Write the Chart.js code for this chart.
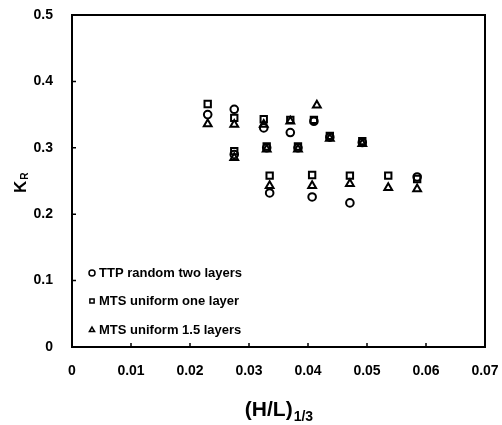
<!DOCTYPE html>
<html><head><meta charset="utf-8">
<script src="https://cdn.jsdelivr.net/npm/chart.js@4.4.1/dist/chart.umd.min.js"></script>
<style>html,body{margin:0;padding:0;background:#fff}#wrap{width:502px;height:425px}</style>
</head><body><div id="wrap"><canvas id="c" width="502" height="425"></canvas></div>
<script>
// ---- data ----
const seriesNames = ['TTP random two layers', 'MTS uniform one layer', 'MTS uniform 1.5 layers'];

const ttpX = [0.0230, 0.0275, 0.0275, 0.0325, 0.0330, 0.0335, 0.0370, 0.0383, 0.0407, 0.0410, 0.0437, 0.0471, 0.0492, 0.0585];
const ttpY = [0.350, 0.358, 0.290, 0.330, 0.300, 0.232, 0.323, 0.300, 0.226, 0.340, 0.316, 0.217, 0.308, 0.256];

const oneX = [0.0230, 0.0275, 0.0275, 0.0325, 0.0330, 0.0335, 0.0370, 0.0383, 0.0407, 0.0410, 0.0437, 0.0471, 0.0492, 0.0536, 0.0585];
const oneY = [0.366, 0.345, 0.295, 0.343, 0.302, 0.258, 0.342, 0.302, 0.259, 0.342, 0.318, 0.258, 0.310, 0.258, 0.253];

const halfX = [0.0230, 0.0275, 0.0275, 0.0325, 0.0330, 0.0335, 0.0370, 0.0383, 0.0407, 0.0415, 0.0437, 0.0471, 0.0492, 0.0536, 0.0585];
const halfY = [0.336, 0.335, 0.285, 0.335, 0.298, 0.243, 0.340, 0.298, 0.243, 0.364, 0.314, 0.246, 0.306, 0.240, 0.238];

const xTickLabels = ['0', '0.01', '0.02', '0.03', '0.04', '0.05', '0.06', '0.07'];
const yTickLabels = ['0', '0.1', '0.2', '0.3', '0.4', '0.5'];
const xTitleMain = '(H/L)', xTitleSub = '1/3';
const yTitleMain = 'K', yTitleSub = 'R';

const pts = (xs, ys) => xs.map((x, i) => ({x: x, y: ys[i]}));
const pointStyles = ['circle', 'rect', 'triangle'];
const FONT = '"Liberation Sans", Arial, sans-serif';

const datasets = [
  {label: seriesNames[0], data: pts(ttpX, ttpY), pointStyle: 'circle', pointRadius: 3.8},
  {label: seriesNames[1], data: pts(oneX, oneY), pointStyle: 'rect', pointRadius: 4.5},
  {label: seriesNames[2], data: pts(halfX, halfY), pointStyle: 'triangle', pointRadius: 4.5}
].map(d => Object.assign(d, {borderColor: '#000', backgroundColor: 'rgba(0,0,0,0)', pointBorderWidth: 2, showLine: false}));

const decor = {
  id: 'decor',
  afterDraw(chart) {
    const ctx = chart.ctx, a = chart.chartArea, xs = chart.scales.x, ys = chart.scales.y;
    ctx.save();
    ctx.strokeStyle = '#000';
    ctx.lineWidth = 2;
    ctx.strokeRect(a.left, a.top, a.right - a.left, a.bottom - a.top);
    ctx.lineWidth = 1.5;
    ctx.beginPath();
    ys.ticks.forEach(t => { const p = ys.getPixelForValue(t.value); ctx.moveTo(a.left, p); ctx.lineTo(a.left + 4, p); });
    xs.ticks.forEach(t => { const p = xs.getPixelForValue(t.value); ctx.moveTo(p, a.bottom); ctx.lineTo(p, a.bottom - 4); });
    ctx.stroke();

    // x axis title with subscript
    ctx.fillStyle = '#000';
    ctx.textBaseline = 'alphabetic';
    ctx.textAlign = 'left';
    ctx.font = 'bold 21px ' + FONT;
    const w1 = ctx.measureText(xTitleMain).width;
    ctx.font = 'bold 14px ' + FONT;
    const w2 = ctx.measureText(xTitleSub).width;
    const cx = (a.left + a.right) / 2;
    const x0 = cx - (w1 + w2) / 2;
    ctx.font = 'bold 21px ' + FONT;
    ctx.fillText(xTitleMain, x0, 416);
    ctx.font = 'bold 14px ' + FONT;
    ctx.fillText(xTitleSub, x0 + w1 + 1, 421);

    // y axis title with subscript (rotated)
    ctx.save();
    ctx.translate(26, 193);
    ctx.rotate(-Math.PI / 2);
    ctx.font = 'bold 17px ' + FONT;
    const k1 = ctx.measureText(yTitleMain).width;
    ctx.fillText(yTitleMain, 0, 0);
    ctx.font = 'bold 10px ' + FONT;
    ctx.fillText(yTitleSub, k1 + 1, 2);
    ctx.restore();

    // legend inside plot
    const rows = [273, 301, 330];
    ctx.textBaseline = 'middle';
    rows.forEach((ry, i) => {
      ctx.lineWidth = 1.5;
      ctx.fillStyle = '#fff';
      Chart.helpers.drawPoint(ctx, {pointStyle: pointStyles[i], radius: 3, borderWidth: 1.5}, 92, ry);
      ctx.fillStyle = '#000';
      ctx.font = 'bold 13px ' + FONT;
      ctx.fillText(seriesNames[i], 99, ry);
    });
    ctx.restore();
  }
};

new Chart(document.getElementById('c'), {
  type: 'scatter',
  data: {datasets},
  options: {
    responsive: false,
    devicePixelRatio: 1,
    animation: false,
    layout: {padding: {top: 15, right: 17, left: 0, bottom: 0}},
    plugins: {legend: {display: false}, tooltip: {enabled: false}},
    scales: {
      x: {
        type: 'linear', min: 0, max: 0.07,
        ticks: {stepSize: 0.01, color: '#000', font: {family: FONT, size: 14, weight: 'bold'}, padding: 16, maxRotation: 0,
          callback: (v, i) => xTickLabels[i]},
        grid: {display: false, drawTicks: false},
        border: {display: false},
        afterFit: s => { s.height = 425 - 347; s.paddingLeft = 0; s.paddingRight = 0; }
      },
      y: {
        type: 'linear', min: 0, max: 0.5,
        ticks: {stepSize: 0.1, color: '#000', font: {family: FONT, size: 14, weight: 'bold'}, padding: 19,
          callback: (v, i) => yTickLabels[i]},
        grid: {display: false, drawTicks: false},
        border: {display: false},
        afterFit: s => { s.width = 72; s.paddingTop = 0; s.paddingBottom = 0; }
      }
    }
  },
  plugins: [decor]
});
</script>
</body></html>
